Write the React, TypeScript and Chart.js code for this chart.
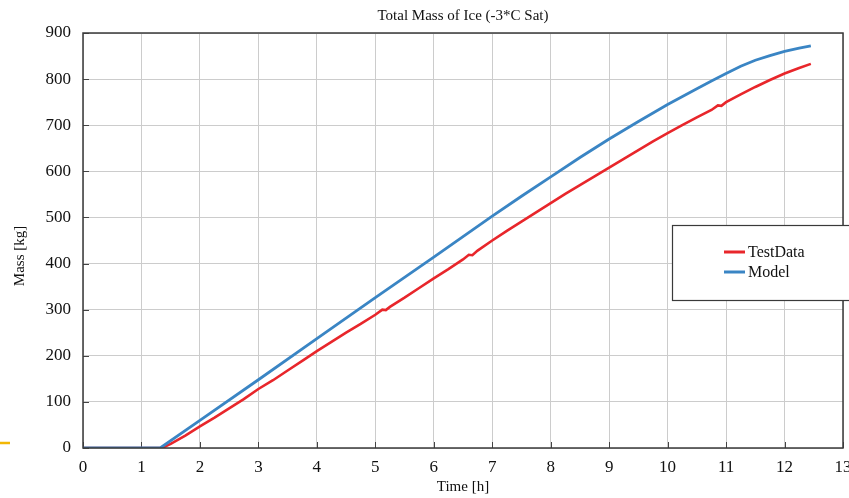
import React, { useEffect, useRef } from "react";
import { Chart, registerables } from "chart.js";

Chart.register(...registerables);

const chartTitle = "Total Mass of Ice (-3*C Sat)";
const xAxisTitle = "Time [h]";
const yAxisTitle = "Mass [kg]";
const seriesNames = ["TestData", "Model"];

const testTime = [0, 1.35, 1.5, 1.75, 2.0, 2.25, 2.5, 2.75, 3.0, 3.25, 3.5, 3.75, 4.0, 4.25, 4.5, 4.75, 5.0, 5.12, 5.18, 5.25, 5.5, 5.75, 6.0, 6.25, 6.5, 6.6, 6.66, 6.75, 7.0, 7.25, 7.5, 7.75, 8.0, 8.25, 8.5, 8.75, 9.0, 9.25, 9.5, 9.75, 10.0, 10.25, 10.5, 10.75, 10.86, 10.92, 11.0, 11.25, 11.5, 11.75, 12.0, 12.25, 12.45];
const testMass = [0, 0, 9, 27, 47, 66, 86, 106, 128, 147, 168, 189, 210, 230, 250, 269, 289, 300, 299, 306, 326, 347, 368, 388, 409, 419, 418, 428, 450, 471, 491, 511, 531, 551, 570, 589, 608, 627, 646, 665, 683, 700, 717, 733, 743, 742, 750, 767, 783, 798, 812, 824, 833];

const modelTime = [0, 1.32, 2, 3, 4, 5, 6, 7, 7.5, 8, 8.5, 9, 9.5, 10, 10.5, 10.75, 11, 11.25, 11.5, 11.75, 12, 12.25, 12.45];
const modelMass = [0, 0, 60, 148, 237, 326, 414, 503, 546, 588, 630, 670, 708, 745, 779, 796, 812, 828, 841, 851, 860, 867, 872];

const xTicks = [0, 1, 2, 3, 4, 5, 6, 7, 8, 9, 10, 11, 12, 13];
const yTicks = [0, 100, 200, 300, 400, 500, 600, 700, 800, 900];

const RED = "#e8262b";
const BLUE = "#3a85c4";
const SERIF = "'Liberation Serif', 'DejaVu Serif', serif";

const decorPlugin = {
  id: "decor",
  beforeDatasetsDraw(chart: any) {
    const { ctx, chartArea } = chart;
    const { left, bottom } = chartArea;
    const xs = chart.scales.x;
    const ys = chart.scales.y;
    ctx.save();
    ctx.strokeStyle = "#444";
    ctx.lineWidth = 1;
    for (const v of xTicks) {
      const px = Math.round(xs.getPixelForValue(v)) + 0.5;
      ctx.beginPath();
      ctx.moveTo(px, bottom);
      ctx.lineTo(px, bottom - 6);
      ctx.stroke();
    }
    for (const v of yTicks) {
      const py = Math.round(ys.getPixelForValue(v)) + 0.5;
      ctx.beginPath();
      ctx.moveTo(left, py);
      ctx.lineTo(left + 6, py);
      ctx.stroke();
    }
    ctx.restore();
  },
  afterDraw(chart: any) {
    const { ctx, chartArea } = chart;
    const { left, right, top, bottom } = chartArea;
    ctx.save();
    ctx.strokeStyle = "#3a3a3a";
    ctx.lineWidth = 1.5;
    ctx.strokeRect(left, top, right - left, bottom - top);

    ctx.fillStyle = "#111";
    ctx.font = `15px ${SERIF}`;
    ctx.textAlign = "center";
    ctx.textBaseline = "middle";
    ctx.fillText(chartTitle, (left + right) / 2, 16);

    ctx.font = `15px ${SERIF}`;
    ctx.fillText(xAxisTitle, (left + right) / 2, 487);

    ctx.save();
    ctx.translate(20, 256);
    ctx.rotate(-Math.PI / 2);
    ctx.fillText(yAxisTitle, 0, 0);
    ctx.restore();

    const bx = 672, by = 225, bw = 190, bh = 75;
    ctx.fillStyle = "#ffffff";
    ctx.fillRect(bx, by, bw, bh);
    ctx.strokeStyle = "#3a3a3a";
    ctx.lineWidth = 1.2;
    ctx.strokeRect(bx + 0.5, by + 0.5, bw, bh);
    const colors = [RED, BLUE];
    const rows = [252, 272];
    ctx.font = `16px ${SERIF}`;
    ctx.textAlign = "left";
    ctx.textBaseline = "middle";
    seriesNames.forEach((name, i) => {
      ctx.strokeStyle = colors[i];
      ctx.lineWidth = 3;
      ctx.beginPath();
      ctx.moveTo(724, rows[i]);
      ctx.lineTo(745, rows[i]);
      ctx.stroke();
      ctx.fillStyle = "#111";
      ctx.fillText(name, 748, rows[i] + 1);
    });

    ctx.strokeStyle = "#f2b705";
    ctx.lineWidth = 2.5;
    ctx.beginPath();
    ctx.moveTo(0, 443);
    ctx.lineTo(10, 443);
    ctx.stroke();
    ctx.restore();
  },
};

export default function App() {
  const canvasRef = useRef<HTMLCanvasElement | null>(null);

  useEffect(() => {
    document.body.style.margin = "0";
    const canvas = canvasRef.current;
    if (!canvas) return;
    const testData = testTime.map((t, i) => ({ x: t, y: testMass[i] }));
    const modelData = modelTime.map((t, i) => ({ x: t, y: modelMass[i] }));
    const chart = new Chart(canvas, {
      type: "scatter",
      data: {
        datasets: [
          {
            label: seriesNames[0],
            data: testData,
            showLine: true,
            borderColor: RED,
            backgroundColor: RED,
            borderWidth: 2.6,
            pointRadius: 0,
            tension: 0,
            order: 1,
          },
          {
            label: seriesNames[1],
            data: modelData,
            showLine: true,
            borderColor: BLUE,
            backgroundColor: BLUE,
            borderWidth: 2.8,
            pointRadius: 0,
            tension: 0,
            order: 0,
          },
        ],
      },
      options: {
        responsive: false,
        animation: false,
        devicePixelRatio: 1,
        layout: { padding: { left: 0, right: 6, top: 33, bottom: 0 } },
        plugins: {
          legend: { display: false },
          title: { display: false },
          tooltip: { enabled: false },
        },
        scales: {
          x: {
            type: "linear",
            min: 0,
            max: 13,
            afterBuildTicks: (s: any) => {
              s.ticks = xTicks.map((v) => ({ value: v }));
            },
            afterFit: (s: any) => {
              s.height = 50;
              s.paddingLeft = 0;
              s.paddingRight = 0;
            },
            grid: { color: "#cccccc", lineWidth: 1, drawTicks: false },
            border: { display: false },
            ticks: {
              padding: 9,
              color: "#111",
              font: { family: SERIF, size: 17 },
              maxRotation: 0,
            },
          },
          y: {
            type: "linear",
            min: 0,
            max: 900,
            afterBuildTicks: (s: any) => {
              s.ticks = yTicks.map((v) => ({ value: v }));
            },
            afterFit: (s: any) => {
              s.width = 83;
              s.paddingTop = 0;
              s.paddingBottom = 0;
            },
            grid: { color: "#cccccc", lineWidth: 1, drawTicks: false },
            border: { display: false },
            ticks: {
              padding: 12,
              color: "#111",
              font: { family: SERIF, size: 17 },
            },
          },
        },
      },
      plugins: [decorPlugin],
    });
    return () => chart.destroy();
  }, []);

  return (
    <div style={{ width: 849, height: 498, background: "#fff" }}>
      <canvas ref={canvasRef} width={849} height={498} style={{ display: "block" }} />
    </div>
  );
}
